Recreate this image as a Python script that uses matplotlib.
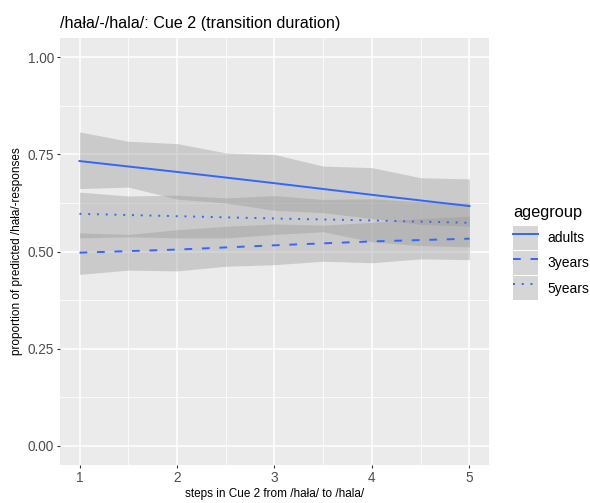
import matplotlib
matplotlib.use("Agg")
import matplotlib.pyplot as plt
import numpy as np
from matplotlib.lines import Line2D
from matplotlib.patches import Patch

plt.rcParams['font.family'] = ['Liberation Sans', 'DejaVu Sans']

# fitted proportions at each step
steps = [1, 2, 3, 4, 5]
groups = ['adults', '3years', '5years']
fit = {
    'adults': [0.733, 0.705, 0.676, 0.646, 0.617],
    '3years': [0.497, 0.505, 0.516, 0.526, 0.533],
    '5years': [0.597, 0.591, 0.585, 0.580, 0.574],
}

# confidence band edges, read at half steps
band_steps = [1, 1.5, 2, 2.5, 3, 3.5, 4, 4.5, 5]
upper = {
    'adults': [0.808, 0.784, 0.778, 0.754, 0.750, 0.720, 0.716, 0.690, 0.687],
    '3years': [0.548, 0.544, 0.556, 0.565, 0.571, 0.568, 0.575, 0.585, 0.591],
    '5years': [0.653, 0.643, 0.645, 0.638, 0.644, 0.634, 0.636, 0.628, 0.625],
}
lower = {
    'adults': [0.662, 0.666, 0.635, 0.625, 0.606, 0.600, 0.585, 0.570, 0.565],
    '3years': [0.441, 0.452, 0.450, 0.462, 0.466, 0.475, 0.471, 0.481, 0.479],
    '5years': [0.535, 0.538, 0.535, 0.535, 0.544, 0.551, 0.525, 0.515, 0.512],
}
styles = {'adults': '-', '3years': (0, (4, 5)), '5years': (0, (1, 3.5))}

line_col = '#3366FF'
band_col = '#999999'

fig = plt.figure(figsize=(5.9, 5.03), dpi=100)
ax = fig.add_axes([60 / 590, 38 / 503, 429 / 590, 427 / 503])
ax.set_facecolor('#EBEBEB')

for g in groups:
    ax.fill_between(band_steps, lower[g], upper[g], color=band_col, alpha=0.4,
                    linewidth=0, zorder=2)
for g in groups:
    ax.plot(steps, fit[g], color=line_col, linewidth=1.4, linestyle=styles[g],
            dash_capstyle='butt', zorder=3)

ax.set_xlim(0.8, 5.2)
ax.set_ylim(-0.05, 1.05)
ax.set_xticks(steps)
ax.set_xticklabels([str(s) for s in steps])
yt = [0, 0.25, 0.5, 0.75, 1.0]
ax.set_yticks(yt)
ax.set_yticklabels([f'{v:.2f}' for v in yt])
ax.set_xticks([1.5, 2.5, 3.5, 4.5], minor=True)
ax.set_yticks([0.125, 0.375, 0.625, 0.875], minor=True)
ax.grid(which='major', color='white', linewidth=1.1)
ax.grid(which='minor', color='white', linewidth=0.55)
ax.set_axisbelow(True)
for s in ax.spines.values():
    s.set_visible(False)
ax.tick_params(which='major', length=2.5, width=0.8, color='#333333',
               labelcolor='#4D4D4D', labelsize=9.8, pad=2)
ax.tick_params(which='minor', length=0)

ax.set_xlabel('steps in Cue 2 from /hała/ to /hala/', fontsize=8.5, labelpad=2)
ax.set_ylabel('proportion of predicted /hała/-responses', fontsize=8.5, labelpad=3)
ax.set_title('/hała/-/hala/: Cue 2 (transition duration)', fontsize=11.6,
             loc='left', pad=7)

handles = [(Patch(facecolor=band_col, alpha=0.4, linewidth=0),
            Line2D([], [], color=line_col, linewidth=1.4, linestyle=styles[g],
                   dash_capstyle='butt'))
           for g in groups]
leg = fig.legend(handles, groups, loc='upper left',
                 bbox_to_anchor=(513 / 590, 1 - 205 / 503),
                 frameon=False, fontsize=10, title='agegroup',
                 title_fontsize=11.8, handlelength=1.8, handleheight=2.3,
                 handletextpad=0.65, labelspacing=0.08, borderpad=0,
                 borderaxespad=0, alignment='left')
leg._legend_box.sep = 4  # a bit more room under the legend title

fig.savefig('out.png', dpi=100)
